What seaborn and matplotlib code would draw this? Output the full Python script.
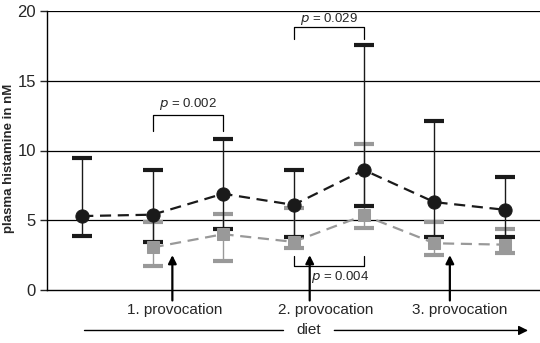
import matplotlib
matplotlib.use("Agg")
import matplotlib.pyplot as plt
import seaborn as sns
import pandas as pd
import numpy as np

# data
timepoints = [0, 1, 2, 3, 4, 5, 6]
black_mean = [5.3, 5.4, 6.9, 6.1, 8.6, 6.3, 5.75]
black_upper = [9.45, 8.6, 10.8, 8.6, 17.55, 12.15, 8.1]
black_lower = [3.9, 3.45, 4.35, 3.8, 6.05, 3.8, 3.8]

grey_time = [1, 2, 3, 4, 5, 6]
grey_mean = [3.05, 4.0, 3.45, 5.35, 3.35, 3.25]
grey_upper = [4.9, 5.45, 5.9, 10.45, 4.9, 4.35]
grey_lower = [1.7, 2.1, 3.0, 4.45, 2.5, 2.65]

provocations = ["1. provocation", "2. provocation", "3. provocation"]
provocation_x = [1.28, 3.23, 5.22]
pvalues = ["0.002", "0.029", "0.004"]

sns.set_style("white")
plt.rcParams['font.family'] = ['Liberation Sans', 'DejaVu Sans']

fig = plt.figure(figsize=(5.4, 3.43), dpi=100)
ax = fig.add_axes([47/540, 1-290/343, 493/540, 279/343])

GREY = "#999999"

dfb = pd.DataFrame({"t": timepoints, "v": black_mean})
dfg = pd.DataFrame({"t": grey_time, "v": grey_mean})

# error bars
gm = np.array(grey_mean); bm = np.array(black_mean)
ax.errorbar(grey_time, gm, yerr=[gm - np.array(grey_lower), np.array(grey_upper) - gm],
            fmt="none", ecolor=GREY, elinewidth=1.0, capsize=7, capthick=3, zorder=3)
ax.errorbar(timepoints, bm, yerr=[bm - np.array(black_lower), np.array(black_upper) - bm],
            fmt="none", ecolor="#1a1a1a", elinewidth=1.0, capsize=7, capthick=3, zorder=4)

sns.lineplot(data=dfg, x="t", y="v", ax=ax, color=GREY, marker="s", markersize=8,
             markeredgecolor=GREY, linewidth=1.6, zorder=5)
sns.lineplot(data=dfb, x="t", y="v", ax=ax, color="#1a1a1a", marker="o", markersize=9.5,
             markeredgecolor="#1a1a1a", linewidth=1.6, zorder=6)
for line in ax.lines[-2:]:
    line.set_dashes([5, 3])

ax.set_xlim(-0.5, 6.5)
ax.set_ylim(0, 20)
ax.set_yticks([0, 5, 10, 15, 20])
ax.set_xticks([])
ax.set_xlabel("")
ax.set_ylabel("plasma histamine in nM", fontsize=9.5, fontweight="bold")
ax.yaxis.set_label_coords(-0.065, 0.47)
ax.tick_params(axis="y", labelsize=12, length=5, width=1, direction="out", left=True, pad=3)
for y in [5, 10, 15, 20]:
    ax.axhline(y, color="black", linewidth=0.9, zorder=1)
for s in ["top", "right"]:
    ax.spines[s].set_visible(False)
for s in ["left", "bottom"]:
    ax.spines[s].set_color("black")
    ax.spines[s].set_linewidth(1)

# significance brackets
def bracket(x1, x2, yh, yl, txt, tx, ty, ha="center"):
    ax.plot([x1, x1, x2, x2], [yl, yh, yh, yl], color="black", linewidth=0.9, clip_on=False)
    ax.text(tx, ty, r"$\it{p}$ = " + txt, fontsize=9.5, ha=ha, va="center")

bracket(1, 2, 12.55, 11.4, pvalues[0], 1.5, 13.3)
bracket(3, 4, 18.85, 18.0, pvalues[1], 3.5, 19.4)
bracket(3, 4, 1.7, 2.45, pvalues[2], 3.25, 0.95, ha="left")

# provocation arrows
for lab, px in zip(provocations, provocation_x):
    ax.annotate("", xy=(px, 2.5), xytext=(px, -0.75), xycoords="data",
                arrowprops=dict(arrowstyle="-|>", color="black", lw=1.6,
                                mutation_scale=12, shrinkA=0, shrinkB=0),
                annotation_clip=False)
for lab, tx in zip(provocations, [1.31, 3.45, 5.36]):
    ax.text(tx, -1.45, lab, fontsize=11, ha="center", va="center")

# diet arrow
ax.plot([0.03, 2.85], [-2.9, -2.9], color="black", linewidth=1.0, clip_on=False)
ax.text(3.22, -2.9, "diet", fontsize=11, ha="center", va="center")
ax.annotate("", xy=(6.33, -2.9), xytext=(3.58, -2.9), xycoords="data",
            arrowprops=dict(arrowstyle="-|>", color="black", lw=1.0,
                            mutation_scale=14, shrinkA=0, shrinkB=0),
            annotation_clip=False)

fig.savefig("out.png", dpi=100)
